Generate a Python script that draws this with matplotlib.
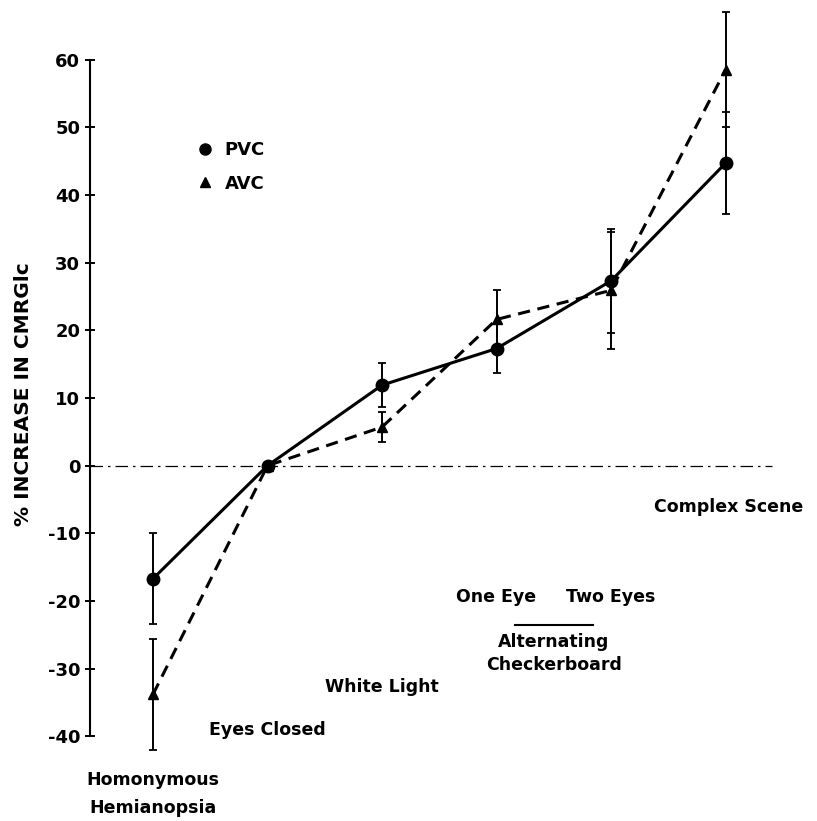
import matplotlib
matplotlib.use('Agg')
from matplotlib import pyplot as plt
from matplotlib.lines import Line2D
import numpy as np

plt.rcParams['font.family'] = 'DejaVu Sans'
plt.rcParams['font.weight'] = 'bold'
plt.rcParams['axes.unicode_minus'] = False

# conditions, left to right
conditions = ['Homonymous\nHemianopsia', 'Eyes Closed', 'White Light',
              'One Eye', 'Two Eyes', 'Complex Scene']

# % increase in CMRGlc
pvc = [-16.7, 0, 11.9, 17.3, 27.3, 44.7]
pvc_err = [6.7, 0, 3.3, 3.6, 7.7, 7.5]
avc = [-33.8, 0, 5.7, 21.6, 25.9, 58.5]
avc_err = [8.2, 0, 2.2, 4.4, 8.6, 8.5]

yticks = [-40, -30, -20, -10, 0, 10, 20, 30, 40, 50, 60]

x = np.arange(len(conditions))

fig = plt.figure(figsize=(8.17, 8.21), dpi=100)
ax = fig.add_axes([90/817, 0, 710/817, 1])

# zero reference line
ax.axhline(0, xmin=0, xmax=0.96, color='black', lw=0.9, ls=(0, (10, 4, 2, 4)))

ax.errorbar(x, pvc, yerr=pvc_err, fmt='none', ecolor='black', elinewidth=1.4,
            capsize=3, capthick=1.3)
ax.errorbar(x, avc, yerr=avc_err, fmt='none', ecolor='black', elinewidth=1.4,
            capsize=3, capthick=1.3)

ax.plot(x, avc, color='black', lw=2.2, dashes=(4, 2.5), marker='^', markersize=7)
ax.plot(x, pvc, color='black', lw=2.2, marker='o', markersize=9)

ax.set_xlim(-0.55, 5.65)
ax.set_ylim(-52.5, 68.8)

for s in ['top', 'right', 'bottom']:
    ax.spines[s].set_visible(False)
ax.spines['left'].set_bounds(-40, 60)
ax.spines['left'].set_linewidth(1.5)
ax.set_xticks([])
ax.set_yticks(yticks)
ax.tick_params(axis='y', direction='inout', length=7, width=1.4, pad=3.5,
               labelsize=13)

ax.set_ylabel('% INCREASE IN CMRGlc', fontsize=14.5, fontweight='bold')
ax.yaxis.label.set_va('center')
ax.yaxis.set_label_coords(-0.094, 0.52)

# condition labels
lab = dict(fontsize=12.5, fontweight='bold', ha='center', va='center')
ax.text(x[0], -46.4, 'Homonymous', **lab)
ax.text(x[0], -50.6, 'Hemianopsia', **lab)
ax.text(x[1], -39.0, conditions[1], **lab)
ax.text(x[2], -32.7, conditions[2], **lab)
ax.text(x[3], -19.4, conditions[3], **lab)
ax.text(x[4], -19.4, conditions[4], **lab)
mid = (x[3] + x[4]) / 2
ax.plot([mid - 0.34, mid + 0.34], [-23.5, -23.5], color='black', lw=1.5)
ax.text(mid, -26.0, 'Alternating', **lab)
ax.text(mid, -29.4, 'Checkerboard', **lab)
ax.text(x[5] + 0.03, -6.05, conditions[5], **lab)

handles = [Line2D([], [], color='black', marker='o', ls='none', markersize=8),
           Line2D([], [], color='black', marker='^', ls='none', markersize=7)]
ax.legend(handles, ['PVC', 'AVC'], loc='upper left', bbox_to_anchor=(0.149, 0.828),
          frameon=False, handlelength=1, handletextpad=0.6, labelspacing=0.85,
          borderpad=0, borderaxespad=0, prop={'size': 13, 'weight': 'bold'})

fig.savefig('out.png', dpi=100)
